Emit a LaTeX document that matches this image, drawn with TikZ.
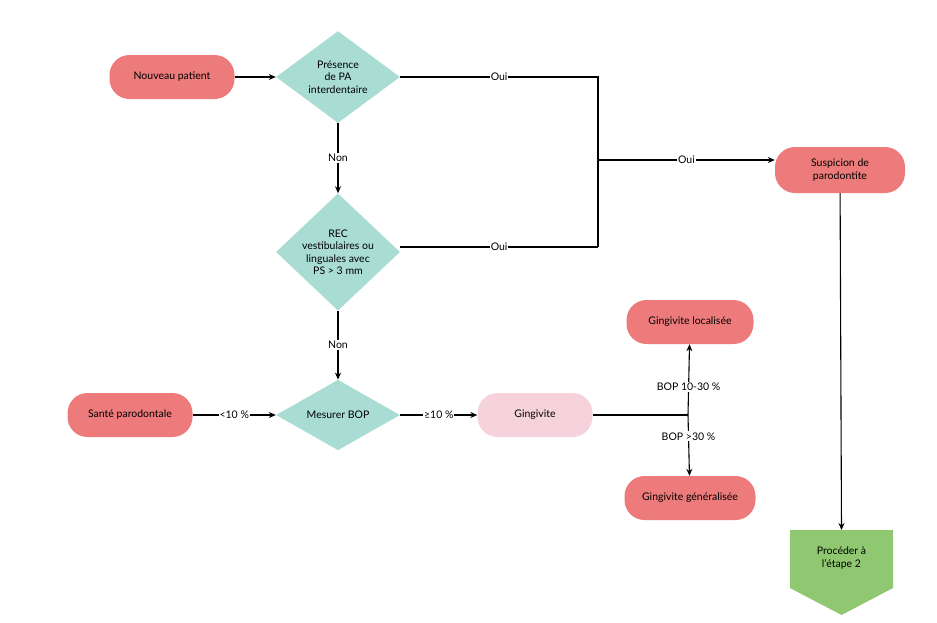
\documentclass[tikz,border=0pt]{standalone}
\usepackage{fontspec}
\setmainfont{Lato}
\usetikzlibrary{shapes.geometric,arrows.meta}
\definecolor{salmon}{HTML}{EE7B7B}
\definecolor{teal}{HTML}{A9DDD3}
\definecolor{pinkl}{HTML}{F6D3DC}
\definecolor{greenp}{HTML}{8FC870}
\begin{document}
\begin{tikzpicture}[x=1pt,y=-1pt,font=\fontsize{10.5}{12.5}\selectfont,
 pill/.style={fill=salmon,rounded corners=20pt,minimum height=44pt,align=center,inner sep=2pt},
 dia/.style={fill=teal,diamond,aspect=1,minimum width=124pt,inner sep=0pt,align=center},
 arr/.style={-{Stealth[length=7pt,width=6pt]},line width=1.1pt},
 ln/.style={line width=1.1pt},
 lab/.style={fill=white,inner sep=1pt}]
\useasboundingbox (0,0) rectangle (937,622);
\node[pill,minimum width=125pt] (np) at (172,77) {Nouveau patient};
\node[dia] (d1) at (338,77) {Présence\\de PA\\interdentaire};
\node[dia] (d2) at (338,252) {REC\\vestibulaires ou\\linguales avec\\PS > 3 mm};
\node[dia] (d3) at (338,415) {Mesurer BOP};
\node[pill,minimum width=125pt] (sp) at (130,415) {Santé parodontale};
\node[pill,fill=pinkl,minimum width=115pt] (gi) at (535,415) {Gingivite};
\node[pill,minimum width=127pt] (gl) at (690,322) {Gingivite localisée};
\node[pill,minimum width=131pt] (gg) at (690,498) {Gingivite généralisée};
\node[pill,minimum width=130pt,minimum height=46pt] (su) at (840,170) {Suspicion de\\parodontite};
\path[fill=greenp] (790,530) -- (893,530) -- (893,588) -- (841.5,615) -- (790,588) -- cycle;
\node[align=center] (pe) at (841.5,558) {Procéder à\\l'étape 2};
\coordinate (pt) at (841.5,530);
\coordinate (j1) at (598,77);
\coordinate (j2) at (598,247);
\coordinate (jm) at (598,160);
\coordinate (jg) at (688,415);
\draw[arr] (np) -- (d1);
\draw[ln] (d1.east) -- node[lab]{Oui} (j1) -- (j2);
\draw[ln] (d2.east|-j2) -- node[lab]{Oui} (j2);
\draw[arr] (jm) -- node[lab,pos=0.5]{Oui} (su.west|-jm);
\draw[arr] (d1.south) -- node[lab]{Non} (d2.north);
\draw[arr] (d2.south) -- node[lab]{Non} (d3.north);
\draw[arr] (sp) -- node[lab]{<10 \%} (d3);
\draw[arr] (d3) -- node[lab]{≥10 \%} (gi);
\draw[ln] (gi) -- (jg);
\draw[arr] (jg) -- node[lab,pos=0.4]{BOP 10-30 \%} (gl);
\draw[arr] (jg) -- node[lab,pos=0.35]{BOP >30 \%} (gg);
\draw[arr] (su) -- (pt);
\end{tikzpicture}
\end{document}
